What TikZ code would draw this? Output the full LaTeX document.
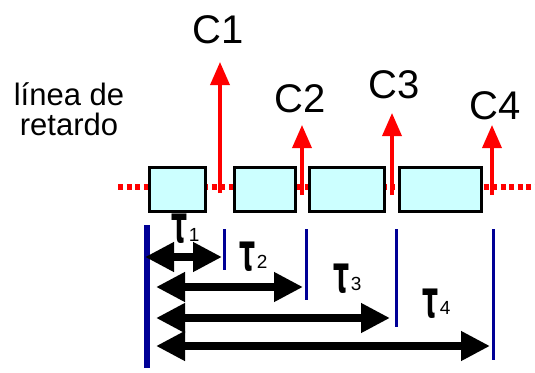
\documentclass[tikz,border=0pt]{standalone}
\usepackage{fontspec}
\usepackage{graphicx}
\setmainfont{Liberation Sans}
\newfontfamily\taufont{DejaVu Sans}
\usetikzlibrary{arrows.meta}
\definecolor{lred}{RGB}{255,0,0}
\definecolor{lcyan}{RGB}{204,255,255}
\definecolor{lblue}{RGB}{0,0,150}
\newcommand{\tausym}{\scalebox{0.7}[1.45]{τ}}
\tikzset{
  cell/.style={draw=black, fill=lcyan, line width=3pt, minimum height=44pt, inner sep=0pt},
  dotline/.style={draw=lred, line width=5.5pt, dash pattern=on 5pt off 3.5pt},
  outarrow/.style={draw=lred, line width=3.5pt, -{Triangle[length=23pt,width=19pt]}, lred},
  clabel/.style={font=\fontsize{40}{40}\selectfont, inner sep=0pt},
  taulabel/.style={font=\taufont\bfseries\fontsize{36}{36}\selectfont, inner sep=0pt},
  sublabel/.style={font=\fontsize{19}{19}\selectfont, inner sep=0pt, anchor=west},
  mainline/.style={draw=lblue, line width=5.5pt},
  tickline/.style={draw=lblue, line width=3pt},
  delay/.style={draw=black, line width=8pt, {Triangle[length=29pt,width=28pt]}-{Triangle[length=29pt,width=28pt]}},
}
\begin{document}
\begin{tikzpicture}[x=1pt,y=-1pt]
\useasboundingbox (0,0) rectangle (535,372);
% delay line
\coordinate (dl) at (118,187);
\coordinate (dr) at (535,187);
\draw[dotline] (dl) -- (dr);
% cells
\node[cell, minimum width=56pt] (b1) at (177.5,189.5) {};
\node[cell, minimum width=61pt] (b2) at (265,189.5) {};
\node[cell, minimum width=75pt] (b3) at (347,189.5) {};
\node[cell, minimum width=82pt] (b4) at (440.5,189.5) {};
% label
\node[font=\fontsize{31}{30}\selectfont, align=center, inner sep=0pt, anchor=base] (lbl) at (69,135) {línea de\\retardo};
% outputs
\coordinate (s1) at (220,193); \coordinate (t1) at (220,62);
\coordinate (s2) at (302,195); \coordinate (t2) at (302,125);
\coordinate (s3) at (392,195); \coordinate (t3) at (392,113);
\coordinate (s4) at (492,195); \coordinate (t4) at (492,125);
\draw[outarrow] (s1) -- (t1);
\draw[outarrow] (s2) -- (t2);
\draw[outarrow] (s3) -- (t3);
\draw[outarrow] (s4) -- (t4);
\node[clabel] (c1) at (218,30) {C1};
\node[clabel] (c2) at (300,99) {C2};
\node[clabel] (c3) at (394,85) {C3};
\node[clabel] (c4) at (495,106) {C4};
% time reference lines
\coordinate (m0) at (147,225); \coordinate (m1) at (147,368);
\draw[mainline] (m0) -- (m1);
\coordinate (p1a) at (224,229); \coordinate (p1b) at (224,270);
\coordinate (p2a) at (306,229); \coordinate (p2b) at (306,300);
\coordinate (p3a) at (396,229); \coordinate (p3b) at (396,327);
\coordinate (p4a) at (493,229); \coordinate (p4b) at (493,360);
\draw[tickline] (p1a) -- (p1b);
\draw[tickline] (p2a) -- (p2b);
\draw[tickline] (p3a) -- (p3b);
\draw[tickline] (p4a) -- (p4b);
% delay arrows
\coordinate (d1l) at (145,257); \coordinate (d1r) at (222,257);
\coordinate (d2l) at (156,287); \coordinate (d2r) at (303,287);
\coordinate (d3l) at (156,318); \coordinate (d3r) at (390,318);
\coordinate (d4l) at (156,346); \coordinate (d4r) at (490,346);
\draw[delay] (d1l) -- (d1r);
\draw[delay] (d2l) -- (d2r);
\draw[delay] (d3l) -- (d3r);
\draw[delay] (d4l) -- (d4r);
% tau labels
\node[taulabel] (tau1) at (180,229) {\tausym};
\node[sublabel] (n1) at ([xshift=0.5pt,yshift=-6pt]tau1.east) {1};
\node[taulabel] (tau2) at (248,257) {\tausym};
\node[sublabel] (n2) at ([xshift=0.5pt,yshift=-5pt]tau2.east) {2};
\node[taulabel] (tau3) at (342,279) {\tausym};
\node[sublabel] (n3) at ([xshift=0.5pt,yshift=-5pt]tau3.east) {3};
\node[taulabel] (tau4) at (431,304) {\tausym};
\node[sublabel] (n4) at ([xshift=0.5pt,yshift=-4pt]tau4.east) {4};
\end{tikzpicture}
\end{document}
